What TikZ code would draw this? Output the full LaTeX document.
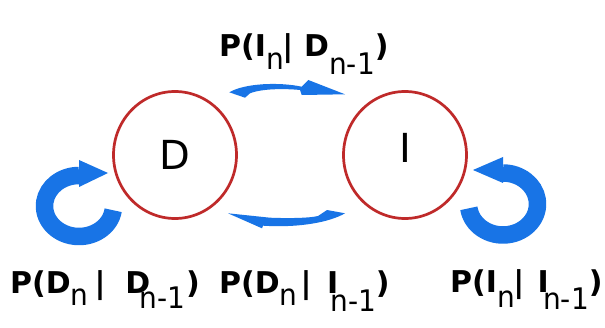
\documentclass[tikz,border=0pt]{standalone}
\usepackage{fontspec}
\setmainfont{DejaVu Sans}
\usepackage{graphicx}
\usetikzlibrary{shapes.geometric,calc}
\definecolor{arrowblue}{HTML}{1874E6}
\definecolor{statered}{HTML}{BF2A2A}
% bold text of the transition labels
\newcommand{\lblfont}{\fontsize{30}{36}\selectfont\bfseries}
% lowered, light subscript; optional argument is the drop
\newcommand{\sbs}[2][13]{\raisebox{-#1pt}{\mdseries\fontsize{28}{30}\selectfont\scalebox{1}[1.06]{#2}}}

\begin{document}
\begin{tikzpicture}[x=1pt,y=1pt,
  state/.style={ellipse, draw=statered, line width=2.7pt,
    minimum width=123pt, minimum height=127pt, inner sep=0pt,
    font=\fontsize{40}{48}\selectfont},
  loopband/.style={draw=arrowblue, line width=17.5pt},
  arrowfill/.style={fill=arrowblue, draw=none},
  prob/.style={anchor=base west, inner sep=0pt, font=\lblfont}]
\useasboundingbox (0,0) rectangle (605,327);
\fill[white] (0,0) rectangle (605,327);

% the two states
\node[state] (D) at (175,172) {D};
\node[state] (I) at (405,172) {\raisebox{7pt}[29pt][0pt]{I}};

% self loops
\coordinate (DL) at ($(D.center)+(-96,-51)$);
\coordinate (IL) at ($(I.center)+(98,-49)$);
\draw[loopband] ([shift={(-8:34.5pt and 30.5pt)}]DL)
  arc[start angle=-8, end angle=-270, x radius=34.5pt, y radius=30.5pt];
\fill[arrowfill] ([shift={(0,46)}]DL) -- ([shift={(29,33)}]DL) -- ([shift={(0,19)}]DL) -- cycle;
\draw[loopband] ([shift={(188:34.5pt and 31pt)}]IL)
  arc[start angle=188, end angle=450, x radius=34.5pt, y radius=31pt];
\fill[arrowfill] ([shift={(0,47)}]IL) -- ([shift={(-30,34)}]IL) -- ([shift={(0,21)}]IL) -- cycle;

% D -> I (upper curved arrow)
\coordinate (T) at ($(D.center)!0.5!(I.center)+(0,66)$);
\fill[arrowfill, shift={(T)}]
  (-60.7,-3.3) .. controls (-45,6) and (-10,7) .. (11.7,2.3)
  -- (18.3,9) -- (55,-5.3) -- (11.7,-6) -- (10,-1)
  .. controls (-5,0.5) and (-28,0.5) .. (-40,-4.3)
  -- (-45,-8.7) -- cycle;

% I -> D (lower curved arrow)
\coordinate (B) at ($(D.center)!0.5!(I.center)+(0,-65)$);
\fill[arrowfill, shift={(B)}]
  (-62,6.7) -- (-20,2.3) .. controls (0,1.5) and (20,2) .. (28,4)
  -- (37,10) -- (55,6.7)
  .. controls (40,-2) and (10,-8) .. (-27,-5.7)
  -- (-28,-8.3) -- cycle;

% transition probabilities
\node[prob] (pID) at (219,270) {P(I\sbs{n}\kern-1.5pt|\hspace{11pt}D\sbs[18]{n-1})};
\node[prob] (pDD) at (10,34) {P(D\sbs[12]{n}\kern6pt|\hspace{20pt}D\kern-11pt\sbs[15]{n-1}\kern1pt)};
\node[prob] (pDI) at (219,34) {P(D\sbs[12]{n}\kern3pt|\hspace{15.6pt}I\kern-8pt\sbs[18]{n-1})};
\node[prob] (pII) at (450,35) {P(I\sbs[15]{n}\kern-1.5pt|\hspace{13.5pt}I\kern-5.7pt\sbs[17]{n-1})};
\end{tikzpicture}
\end{document}
